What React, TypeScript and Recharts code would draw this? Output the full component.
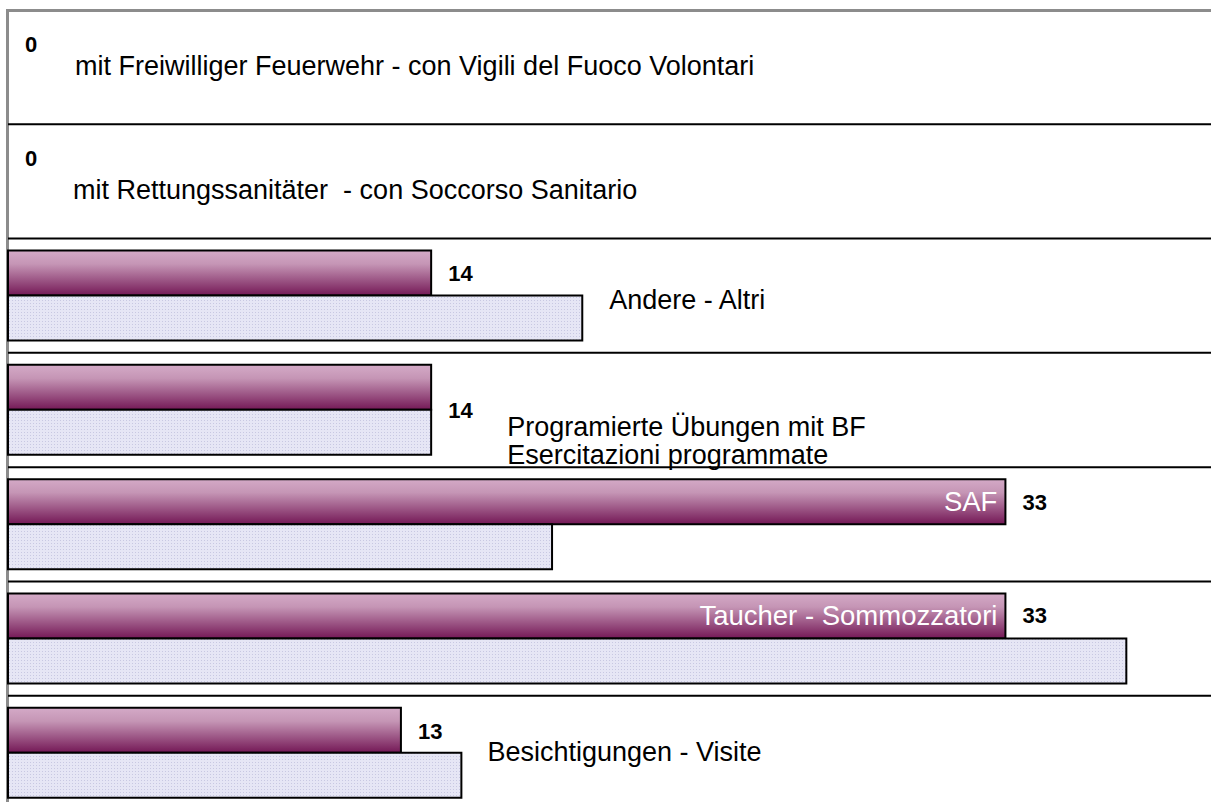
import { BarChart, Bar, XAxis, YAxis, CartesianGrid, LabelList, Rectangle } from 'recharts';

const categories = [
  'mit Freiwilliger Feuerwehr - con Vigili del Fuoco Volontari',
  'mit Rettungssanitäter  - con Soccorso Sanitario',
  'Andere - Altri',
  'Programierte Übungen mit BF\nEsercitazioni programmate',
  'SAF',
  'Taucher - Sommozzatori',
  'Besichtigungen - Visite',
];
const current = [0, 0, 14, 14, 33, 33, 13];
const previous = [0, 0, 19, 14, 18, 37, 15];

// where each category name sits: next to the light bar's end, or inside the dark bar
const namePlacement = [
  { inside: false, dx: 67, dy: -1 },
  { inside: false, dx: 65, dy: 9 },
  { inside: false, dx: 27, dy: 4 },
  { inside: false, dx: 76, dy: 17 },
  { inside: true, dx: -8, dy: 0 },
  { inside: true, dx: -8, dy: 0 },
  { inside: false, dx: 26, dy: -1 },
];
const valueNudge = [0, 0, 0, 23, 1, 0, 1];

const FONT = '"Liberation Sans", Arial, sans-serif';

function box(props: any) {
  const vb = props.viewBox || {};
  return {
    x: Number(props.x ?? vb.x),
    y: Number(props.y ?? vb.y),
    w: Number(props.width ?? vb.width),
    h: Number(props.height ?? vb.height),
  };
}

// zero bars get a 1px stub so their labels survive; don't draw the stub itself
const BarShape = (props: any) => (props.width > 1.5 ? <Rectangle {...props} /> : <g />);

const ValueLabel = (props: any) => {
  const i = categories.indexOf(String(props.value));
  if (i < 0) return null;
  const { x, y, w, h } = box(props);
  const end = current[i] === 0 ? x : x + w;
  return (
    <text x={end + 17} y={y + h / 2 + valueNudge[i]} dominantBaseline="central"
      fontFamily={FONT} fontSize={22} fontWeight="bold" fill="#000">
      {current[i]}
    </text>
  );
};

const NameInside = (props: any) => {
  const i = categories.indexOf(String(props.value));
  const p = namePlacement[i];
  if (!p || !p.inside) return null;
  const { x, y, w, h } = box(props);
  return (
    <text x={x + w + p.dx} y={y + h / 2 + p.dy} textAnchor="end" dominantBaseline="central"
      fontFamily={FONT} fontSize={27.5} fill="#fff">
      {props.value}
    </text>
  );
};

const NameOutside = (props: any) => {
  const i = categories.indexOf(String(props.value));
  const p = namePlacement[i];
  if (!p || p.inside) return null;
  const { x, y, w } = box(props);
  const lines = String(props.value).split('\n');
  const tx = (previous[i] === 0 ? x : x + w) + p.dx;
  return (
    <text x={tx} y={y + p.dy} dominantBaseline="central" fontFamily={FONT} fontSize={27}
      fill="#000" style={{ whiteSpace: 'pre' }}>
      {lines.map((line, k) => (
        <tspan key={k} x={tx} dy={k === 0 ? 0 : 28}>{line}</tspan>
      ))}
    </text>
  );
};

export default function App() {
  const data = categories.map((name, i) => ({ name, cur: current[i], prev: previous[i] }));
  const rows = categories.length;
  const stub = (v: any) => (Number(v) === 0 ? 1 : 0);

  return (
    <div style={{ position: 'fixed', left: 0, top: 0, width: 1211, height: 802, overflow: 'hidden', background: '#fff' }}>
      <div style={{ position: 'absolute', left: 6, top: 9, width: 1300, height: 900,
        borderTop: '3px solid #8c8c8c', borderLeft: '3px solid #8c8c8c' }} />
      <BarChart layout="vertical" width={1217} height={810} data={data}
        margin={{ top: 10, right: 0, bottom: 0, left: 8 }}
        barCategoryGap={12} barGap={0} style={{ position: 'absolute', left: 0, top: 0 }}>
        <defs>
          <linearGradient id="darkFill" x1="0" y1="0" x2="0" y2="1">
            <stop offset="0%" stopColor="#d4aac7" />
            <stop offset="30%" stopColor="#c595b5" />
            <stop offset="100%" stopColor="#741856" />
          </linearGradient>
          <pattern id="dotFill" width="3" height="3" patternUnits="userSpaceOnUse">
            <rect width="3" height="3" fill="#e6e6f5" />
            <rect width="1" height="1" fill="#c8c8e2" />
          </pattern>
        </defs>
        <CartesianGrid vertical={false} stroke="#000" strokeWidth={2}
          horizontalCoordinatesGenerator={({ offset }: any) =>
            Array.from({ length: rows }, (_, k) => offset.top + ((k + 1) * offset.height) / rows)} />
        <XAxis type="number" domain={[0, 40]} hide />
        <YAxis type="category" dataKey="name" hide />
        <Bar dataKey="cur" fill="url(#darkFill)" stroke="#000" strokeWidth={2}
          minPointSize={stub} shape={BarShape} isAnimationActive={false}>
          <LabelList dataKey="name" content={ValueLabel} />
          <LabelList dataKey="name" content={NameInside} />
        </Bar>
        <Bar dataKey="prev" fill="url(#dotFill)" stroke="#000" strokeWidth={2}
          minPointSize={stub} shape={BarShape} isAnimationActive={false}>
          <LabelList dataKey="name" content={NameOutside} />
        </Bar>
      </BarChart>
    </div>
  );
}
